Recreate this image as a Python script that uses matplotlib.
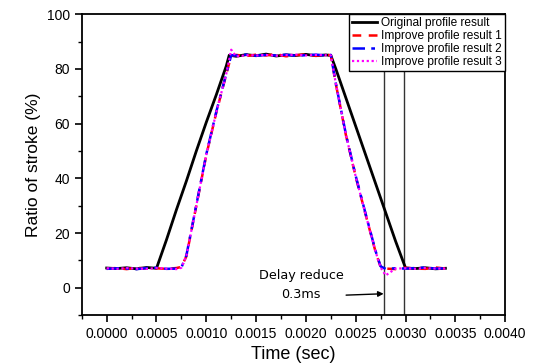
import matplotlib
matplotlib.use('Agg')
import matplotlib.pyplot as plt

plt.rcParams['font.family'] = ['Liberation Sans', 'DejaVu Sans']

# Original profile (time in sec, stroke ratio in %)
t_orig = [0.0000, 0.0001, 0.0002, 0.0003, 0.0004, 0.0005, 0.0006, 0.0007, 0.0008,
          0.0009, 0.0010, 0.0011, 0.0012, 0.00123, 0.0013, 0.0014, 0.0015, 0.0016,
          0.0017, 0.0018, 0.0019, 0.0020, 0.0021, 0.0022, 0.00225, 0.0023, 0.0024,
          0.0025, 0.0026, 0.0027, 0.0028, 0.0029, 0.0030, 0.0031, 0.0032, 0.0033, 0.0034]
y_orig = [7.2, 7.0, 7.3, 6.9, 7.4, 7.1, 17.5, 28.5, 39.0,
          50.0, 60.5, 70.5, 81.0, 85.0, 84.6, 85.2, 84.8, 85.4,
          84.7, 85.1, 84.9, 85.3, 84.8, 85.1, 84.9, 80.0, 69.5,
          59.0, 48.5, 38.0, 27.5, 17.0, 7.2, 7.0, 7.3, 6.9, 7.1]

# Improved profile results
t_imp = [0.0000, 0.0001, 0.0002, 0.0003, 0.0004, 0.0005, 0.0006, 0.0007, 0.00075,
         0.0008, 0.0009, 0.0010, 0.0011, 0.0012, 0.00125, 0.0013, 0.0014, 0.0015,
         0.0016, 0.0017, 0.0018, 0.0019, 0.0020, 0.0021, 0.0022, 0.00225, 0.0023,
         0.0024, 0.0025, 0.0026, 0.0027, 0.00275, 0.0028, 0.0029, 0.0030, 0.0031,
         0.0032, 0.0033, 0.0034]
y_imp1 = [7.0, 7.2, 6.8, 7.3, 7.0, 7.1, 6.9, 7.2, 7.6,
          11.5, 30.0, 48.5, 64.0, 78.0, 84.8, 85.1, 84.7, 85.2,
          84.9, 85.4, 84.6, 85.0, 85.3, 84.8, 85.1, 85.0, 74.5,
          56.0, 40.5, 26.6, 13.0, 7.6, 7.0, 6.8, 7.3, 7.0,
          6.9, 7.4, 7.0]
y_imp2 = [6.9, 7.1, 7.0, 6.8, 7.2, 7.3, 6.9, 7.0, 7.4,
          11.8, 30.3, 48.8, 64.3, 78.2, 85.0, 84.9, 85.2, 84.8,
          85.1, 84.9, 85.2, 84.8, 85.0, 85.2, 84.9, 85.1, 74.7,
          56.3, 40.8, 26.9, 13.3, 7.8, 6.9, 7.1, 7.0, 7.2,
          7.4, 7.0, 7.1]
y_imp3 = [7.1, 6.9, 7.2, 7.0, 6.9, 7.2, 7.0, 6.8, 7.3,
          11.6, 30.1, 48.6, 64.1, 78.1, 87.0, 84.5, 85.0, 84.9,
          85.1, 84.8, 85.0, 85.2, 84.9, 85.1, 85.0, 84.9, 74.6,
          56.1, 40.6, 26.7, 13.1, 7.4, 4.5, 7.0, 7.1, 6.9,
          7.2, 7.0, 7.0]

marker_t = [0.00278, 0.00298]
note_text = 'Delay reduce\n0.3ms'

fig = plt.figure(figsize=(5.38, 3.63), dpi=100)
ax = fig.add_axes([0.152, 0.132, 0.787, 0.829])

ax.plot(t_orig, y_orig, color='black', lw=2, label='Original profile result')
ax.plot(t_imp, y_imp1, color='red', lw=1.8, ls=(0, (3.5, 3)), label='Improve profile result 1')
ax.plot(t_imp, y_imp2, color='blue', lw=1.8, ls=(0, (5, 2.5, 1.5, 2.5)), label='Improve profile result 2')
ax.plot(t_imp, y_imp3, color='magenta', lw=1.6, ls=(0, (1, 1.2)), label='Improve profile result 3')

for xv in marker_t:
    ax.axvline(xv, color='#333333', lw=1.0, zorder=1)

ax.annotate(note_text, xy=(0.00278, -2.2), xytext=(0.00195, 1.0),
            ha='center', va='center', fontsize=9.2, family='DejaVu Sans',
            linespacing=1.6,
            arrowprops=dict(arrowstyle='-|>', color='black', lw=1.0,
                            shrinkA=0, shrinkB=0, mutation_scale=8,
                            relpos=(1.0, 0.18)))

ax.set_xlim(-0.00025, 0.0040)
ax.set_ylim(-10, 100)
ax.set_xticks([0.0000, 0.0005, 0.0010, 0.0015, 0.0020, 0.0025, 0.0030, 0.0035, 0.0040])
ax.set_xticklabels(['0.0000', '0.0005', '0.0010', '0.0015', '0.0020',
                    '0.0025', '0.0030', '0.0035', '0.0040'])
ax.set_xticks([-0.00025 + 0.0005 * i for i in range(9)], minor=True)
ax.set_yticks([0, 20, 40, 60, 80, 100])
ax.set_yticks([-10, 10, 30, 50, 70, 90], minor=True)
ax.tick_params(which='both', direction='out', top=False, right=False, labelsize=10)
ax.tick_params(which='major', length=5, width=1.2)
ax.tick_params(which='minor', length=3, width=1.0)
for s in ax.spines.values():
    s.set_linewidth(1.3)

ax.set_xlabel('Time (sec)', fontsize=13)
ax.set_ylabel('Ratio of stroke (%)', fontsize=12.5)

leg = ax.legend(loc='upper right', fontsize=8.6, frameon=True, fancybox=False,
                edgecolor='black', framealpha=1, borderaxespad=0, handlelength=2.1,
                handletextpad=0.4, labelspacing=0.08, borderpad=0.25)
leg.get_frame().set_linewidth(1.0)

fig.savefig('out.png', dpi=100)
